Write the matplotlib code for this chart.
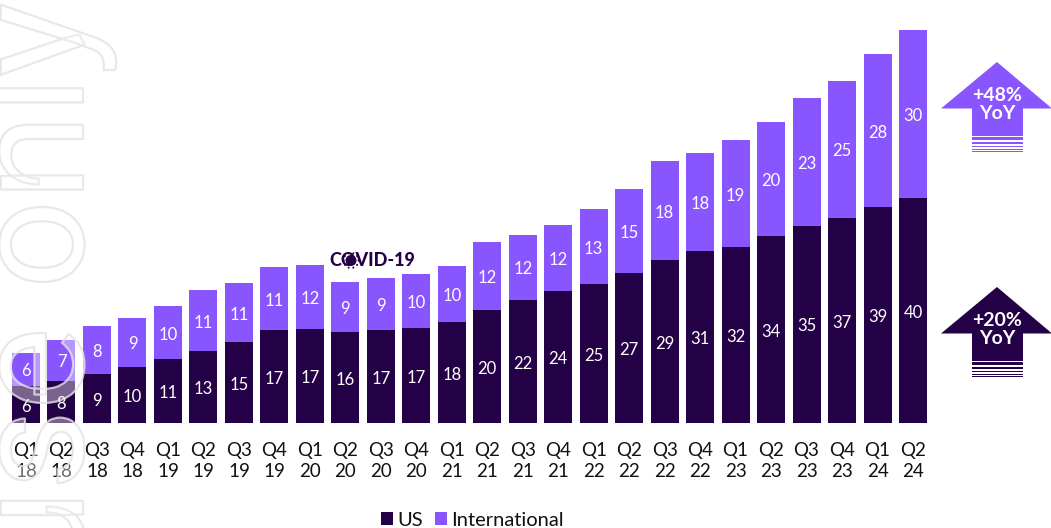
import matplotlib
matplotlib.use('Agg')
import numpy as np
import matplotlib.pyplot as plt
import matplotlib.patheffects as pe
from matplotlib.patches import Polygon, Circle, Rectangle

plt.rcParams['font.family'] = 'Lato'

quarters = ['Q1', 'Q2', 'Q3', 'Q4', 'Q1', 'Q2', 'Q3', 'Q4', 'Q1', 'Q2', 'Q3', 'Q4', 'Q1',
            'Q2', 'Q3', 'Q4', 'Q1', 'Q2', 'Q3', 'Q4', 'Q1', 'Q2', 'Q3', 'Q4', 'Q1', 'Q2']
years = ['18', '18', '18', '18', '19', '19', '19', '19', '20', '20', '20', '20', '21',
         '21', '21', '21', '22', '22', '22', '22', '23', '23', '23', '23', '24', '24']
# heights, the printed labels are rounded
us = [6.6, 7.5, 8.7, 10.0, 11.4, 12.8, 14.4, 16.5, 16.7, 16.2, 16.5, 16.9, 18.0,
      20.1, 21.9, 23.5, 24.7, 26.7, 29.0, 30.6, 31.3, 33.3, 35.1, 36.5, 38.4, 40.0]
intl = [5.9, 7.3, 8.6, 8.7, 9.4, 10.9, 10.5, 11.3, 11.4, 8.9, 9.3, 9.6, 9.9,
        12.1, 11.6, 11.7, 13.4, 14.9, 17.6, 17.4, 19.1, 20.3, 22.7, 24.4, 27.3, 29.9]
us_labels = [6, 8, 9, 10, 11, 13, 15, 17, 17, 16, 17, 17, 18,
             20, 22, 24, 25, 27, 29, 31, 32, 34, 35, 37, 39, 40]
intl_labels = [6, 7, 8, 9, 10, 11, 11, 11, 12, 9, 9, 10, 10,
               12, 12, 12, 13, 15, 18, 18, 19, 20, 23, 25, 28, 30]

DARK = '#240046'
PURPLE = '#8955FF'
W, H = 1051, 528

fig = plt.figure(figsize=(W / 100, H / 100), dpi=100)
ax = fig.add_axes([0, (H - 423) / H, 1, 423 / H])
x = list(range(len(us)))
b1 = ax.bar(x, us, width=0.79, color=DARK, label='US')
b2 = ax.bar(x, intl, width=0.79, bottom=us, color=PURPLE, label='International')
ax.bar_label(b1, labels=[str(v) for v in us_labels], label_type='center', color='white', fontsize=12, padding=-1.5)
ax.bar_label(b2, labels=[str(v) for v in intl_labels], label_type='center', color='white', fontsize=12, padding=-1.5)

ax.set_xlim(-26 / 35.48, (W - 26) / 35.48)
ax.set_ylim(0, 423 / 5.62)
ax.set_yticks([])
ax.set_xticks(x)
ax.set_xticklabels([q + '\n' + y for q, y in zip(quarters, years)], fontsize=13.5, linespacing=1.3, color='#111111')
ax.tick_params(axis='x', length=0, pad=13.5)
for s in ax.spines.values():
    s.set_visible(False)

fig.legend(handles=[b1, b2], loc='lower left', bbox_to_anchor=(363 / W, -19 / H), ncol=2, frameon=False,
           fontsize=14.5, handlelength=0.6, handleheight=0.6, handletextpad=0.2, columnspacing=0.6,
           labelcolor='#111111')

# overlay in pixel coordinates for arrows and watermark
ov = fig.add_axes([0, 0, 1, 1])
ov.set_xlim(0, W)
ov.set_ylim(H, 0)
ov.axis('off')


def arrow(top, color, text):
    wing = top + 46.5
    solid = top + 74
    ov.add_patch(Polygon([(997, top), (1052, wing), (1023, wing), (1023, solid), (972, solid), (972, wing), (941, wing)],
                         closed=True, color=color, lw=0))
    for off, h in [(75, 3), (79.5, 2), (83.5, 1), (86.5, 1), (88.5, 1.5)]:
        ov.add_patch(Rectangle((972, top + off), 51, h, color=color, lw=0))
    ov.text(997, top + 42.5, text, ha='center', va='center', color='white', fontsize=14, fontweight='bold', linespacing=1.1)


arrow(62, PURPLE, '+48%\nYoY')
arrow(287, DARK, '+20%\nYoY')

# COVID marker, virus drawn over the O
ov.text(372.5, 260.5, 'COVID-19', ha='center', va='center', color=DARK, fontsize=13, fontweight='black')
ov.add_patch(Circle((351, 260.5), 8.5, color='white', lw=0))
ov.add_patch(Circle((351, 260.5), 5.5, color=DARK, lw=0))
for a in np.arange(0, 2 * np.pi, np.pi / 5):
    ov.add_patch(Circle((351 + 7.5 * np.cos(a), 260.5 + 7.5 * np.sin(a)), 1.0, color=DARK, lw=0))

ov.text(83, 576, 'use only', rotation=90, ha='left', va='baseline', rotation_mode='anchor', fontsize=112,
        family='Roboto', color=(1, 1, 1, 0.22), zorder=0.5,
        path_effects=[pe.Stroke(linewidth=1.6, foreground=(0.88, 0.88, 0.88, 0.8)), pe.Normal()])

fig.savefig('out.png', dpi=100)
plt.close()
